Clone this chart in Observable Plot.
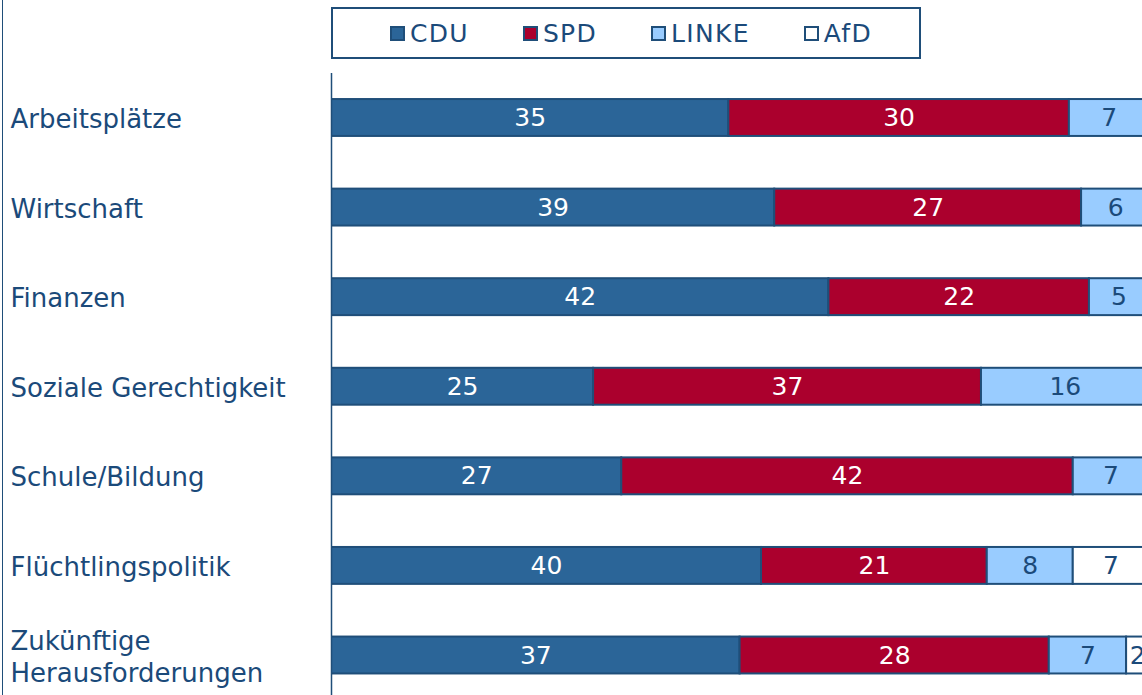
<!DOCTYPE html>
<html>
<head>
<meta charset="utf-8">
<script src="https://cdn.jsdelivr.net/npm/d3@7"></script>
<script src="https://cdn.jsdelivr.net/npm/@observablehq/plot@0.6"></script>
<style>
  html, body { margin: 0; padding: 0; background: #fff; overflow: hidden; }
  #wrap { position: relative; width: 1142px; height: 695px; font-family: "DejaVu Sans", sans-serif; }
  #leftline { position: absolute; left: 2px; top: 0; width: 1px; height: 695px; background: #1F4E79; }
  #legend { position: absolute; left: 331px; top: 7px; width: 576px; height: 48px; border: 2px solid #1F4E79;
            display: flex; align-items: center; justify-content: center; gap: 54px; padding-left: 10px; box-sizing: content-box; }
  .item { display: flex; align-items: center; color: #1B4A7A; font-size: 25px; letter-spacing: 1.3px; line-height: 1; }
  .sw { width: 11px; height: 11px; border: 2px solid #1F4E79; margin-right: 5px; }
  #chart { position: absolute; left: 0; top: 0; }
</style>
</head>
<body>
<div id="wrap">
  <div id="chart"></div>
  <div id="leftline"></div>
  <div id="legend"></div>
</div>
<script>
// ---- data ----
const categories = ["Arbeitsplätze", "Wirtschaft", "Finanzen", "Soziale Gerechtigkeit",
                    "Schule/Bildung", "Flüchtlingspolitik", "Zukünftige\nHerausforderungen"];
const parties = ["CDU", "SPD", "LINKE", "AfD"];
const cdu   = [35, 39, 42, 25, 27, 40, 37];
const spd   = [30, 27, 22, 37, 42, 21, 28];
const linke = [7, 6, 5, 16, 7, 8, 7];
const afd   = [null, null, null, null, null, 7, 2];
// estimated row totals (the bars are normalized per row; the rest lies outside the picture)
const rowTotals = [89.3, 89.2, 85.6, 96.7, 94.3, 94.3, 91.8];
const partyColors = ["#2B6598", "#AB002D", "#99CCFF", "#FFFFFF"];

const series = [cdu, spd, linke, afd];
const rows = [];
categories.forEach((cat, i) => {
  parties.forEach((p, j) => {
    const v = series[j][i];
    if (v != null) rows.push({cat, party: p, value: v, share: v * 100 / rowTotals[i]});
  });
});

const dark = "#1F4E79";
const labelColor = "#1B4A7A";
const onDark = d => d.party === "CDU" || d.party === "SPD";

const stackOpts = {x: "share", y: "cat", z: "party", order: parties};

const chart = Plot.plot({
  width: 1142,
  height: 695,
  marginLeft: 331,
  marginRight: 0,
  marginTop: 73,
  marginBottom: 0,
  style: {fontFamily: "DejaVu Sans, sans-serif", background: "transparent", overflow: "hidden"},
  x: {domain: [0, 80], axis: null},
  y: {domain: categories, range: [72.7, 699.8], paddingInner: 0.588, paddingOuter: 0.294, round: false, label: null},
  color: {domain: parties, range: partyColors},
  marks: [
    Plot.barX(rows, Plot.stackX({...stackOpts, fill: "party", stroke: dark, strokeWidth: 2, clip: true})),
    Plot.text(rows, Plot.stackX({...stackOpts,
      text: d => onDark(d) ? String(d.value) : "", fill: "white", fontSize: 25, clip: true})),
    Plot.text(rows, Plot.stackX({...stackOpts,
      text: d => onDark(d) ? "" : String(d.value), fill: labelColor, fontSize: 25, clip: true})),
    Plot.axisY({tickSize: 0, tickPadding: 0, textAnchor: "start", dx: -321, fontSize: 26,
      lineHeight: 1.22, color: labelColor, label: null}),
    Plot.ruleX([0], {stroke: dark, strokeWidth: 1.5})
  ]
});
document.getElementById("chart").appendChild(chart);

// legend built from the same parties / colors
const leg = document.getElementById("legend");
parties.forEach((p, j) => {
  const it = document.createElement("div");
  it.className = "item";
  const sw = document.createElement("span");
  sw.className = "sw";
  sw.style.background = partyColors[j];
  const t = document.createElement("span");
  t.textContent = p;
  it.appendChild(sw); it.appendChild(t);
  leg.appendChild(it);
});
</script>
</body>
</html>
